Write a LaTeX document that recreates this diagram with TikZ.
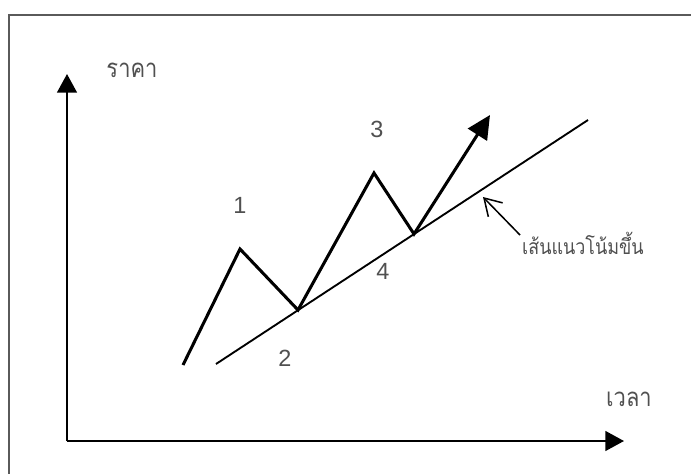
\documentclass[tikz,border=0pt]{standalone}
\usepackage{fontspec}
\setmainfont{Liberation Sans}
\newfontfamily\thaifont[Script=Thai, FakeStretch=0.85]{Loma}
\usetikzlibrary{arrows.meta}
\definecolor{textgrey}{HTML}{505050}
\definecolor{framegrey}{HTML}{5A5A5A}

\begin{document}
\begin{tikzpicture}[x=0.03cm, y=-0.03cm,
	axis/.style={line width=1.7pt, -{Triangle[length=16pt,width=17pt]}},
	zig/.style={line width=2.6pt, -{Triangle[length=20pt,width=19pt]}},
	trend/.style={line width=1.6pt},
	pointer/.style={line width=1.3pt, -{Straight Barb[length=14pt,width=17pt]}},
	digit/.style={text=textgrey, font=\fontsize{20}{24}\selectfont},
	thailbl/.style={text=textgrey, font=\thaifont\fontsize{22}{26}\selectfont},
	thaismall/.style={text=textgrey, inner sep=0pt, font=\thaifont\fontsize{18}{21}\selectfont}]
	
	\useasboundingbox (0,0) rectangle (691,474);
	
	% Khung bao ngoai
	\draw[framegrey, line width=2.5pt] (9,15) rectangle (700,490);
	
	% Cac truc toa do
	\coordinate (O) at (67,441);
	\coordinate (ytip) at (67,74);
	\coordinate (xtip) at (624,441);
	\draw[axis] (O) -- (ytip);
	\draw[axis] (O) -- (xtip);
	
	% Nhan truc
	\node[thailbl] (price) at (132,70) {ราคา};
	\node[thailbl] (time) at (629,399) {เวลา};
	
	% Duong xu huong
	\coordinate (t0) at (216,364);
	\coordinate (t1) at (588,120);
	\draw[trend] (t0) -- (t1);
	
	% Duong gia zigzag
	\coordinate (z0) at (183,365);
	\coordinate (z1) at (240,249);
	\coordinate (z2) at (298,310);
	\coordinate (z3) at (374,173);
	\coordinate (z4) at (414,234);
	\coordinate (z5) at (490,115);
	\draw[zig] (z0) -- (z1) -- (z2) -- (z3) -- (z4) -- (z5);
	
	% Danh so cac dinh va day
	\node[digit] (n1) at (240,205) {1};
	\node[digit] (n2) at (285,358) {2};
	\node[digit] (n3) at (377,129) {3};
	\node[digit] (n4) at (383,271) {4};
	
	% Chu thich duong xu huong
	\node[thaismall, anchor=west] (trendlbl) at (522,243) {เส้นแนวโน้มขึ้น};
	\coordinate (ptail) at (520,235);
	\coordinate (ptip) at (483,197);
	\draw[pointer] (ptail) -- (ptip);
	
\end{tikzpicture}
\end{document}
